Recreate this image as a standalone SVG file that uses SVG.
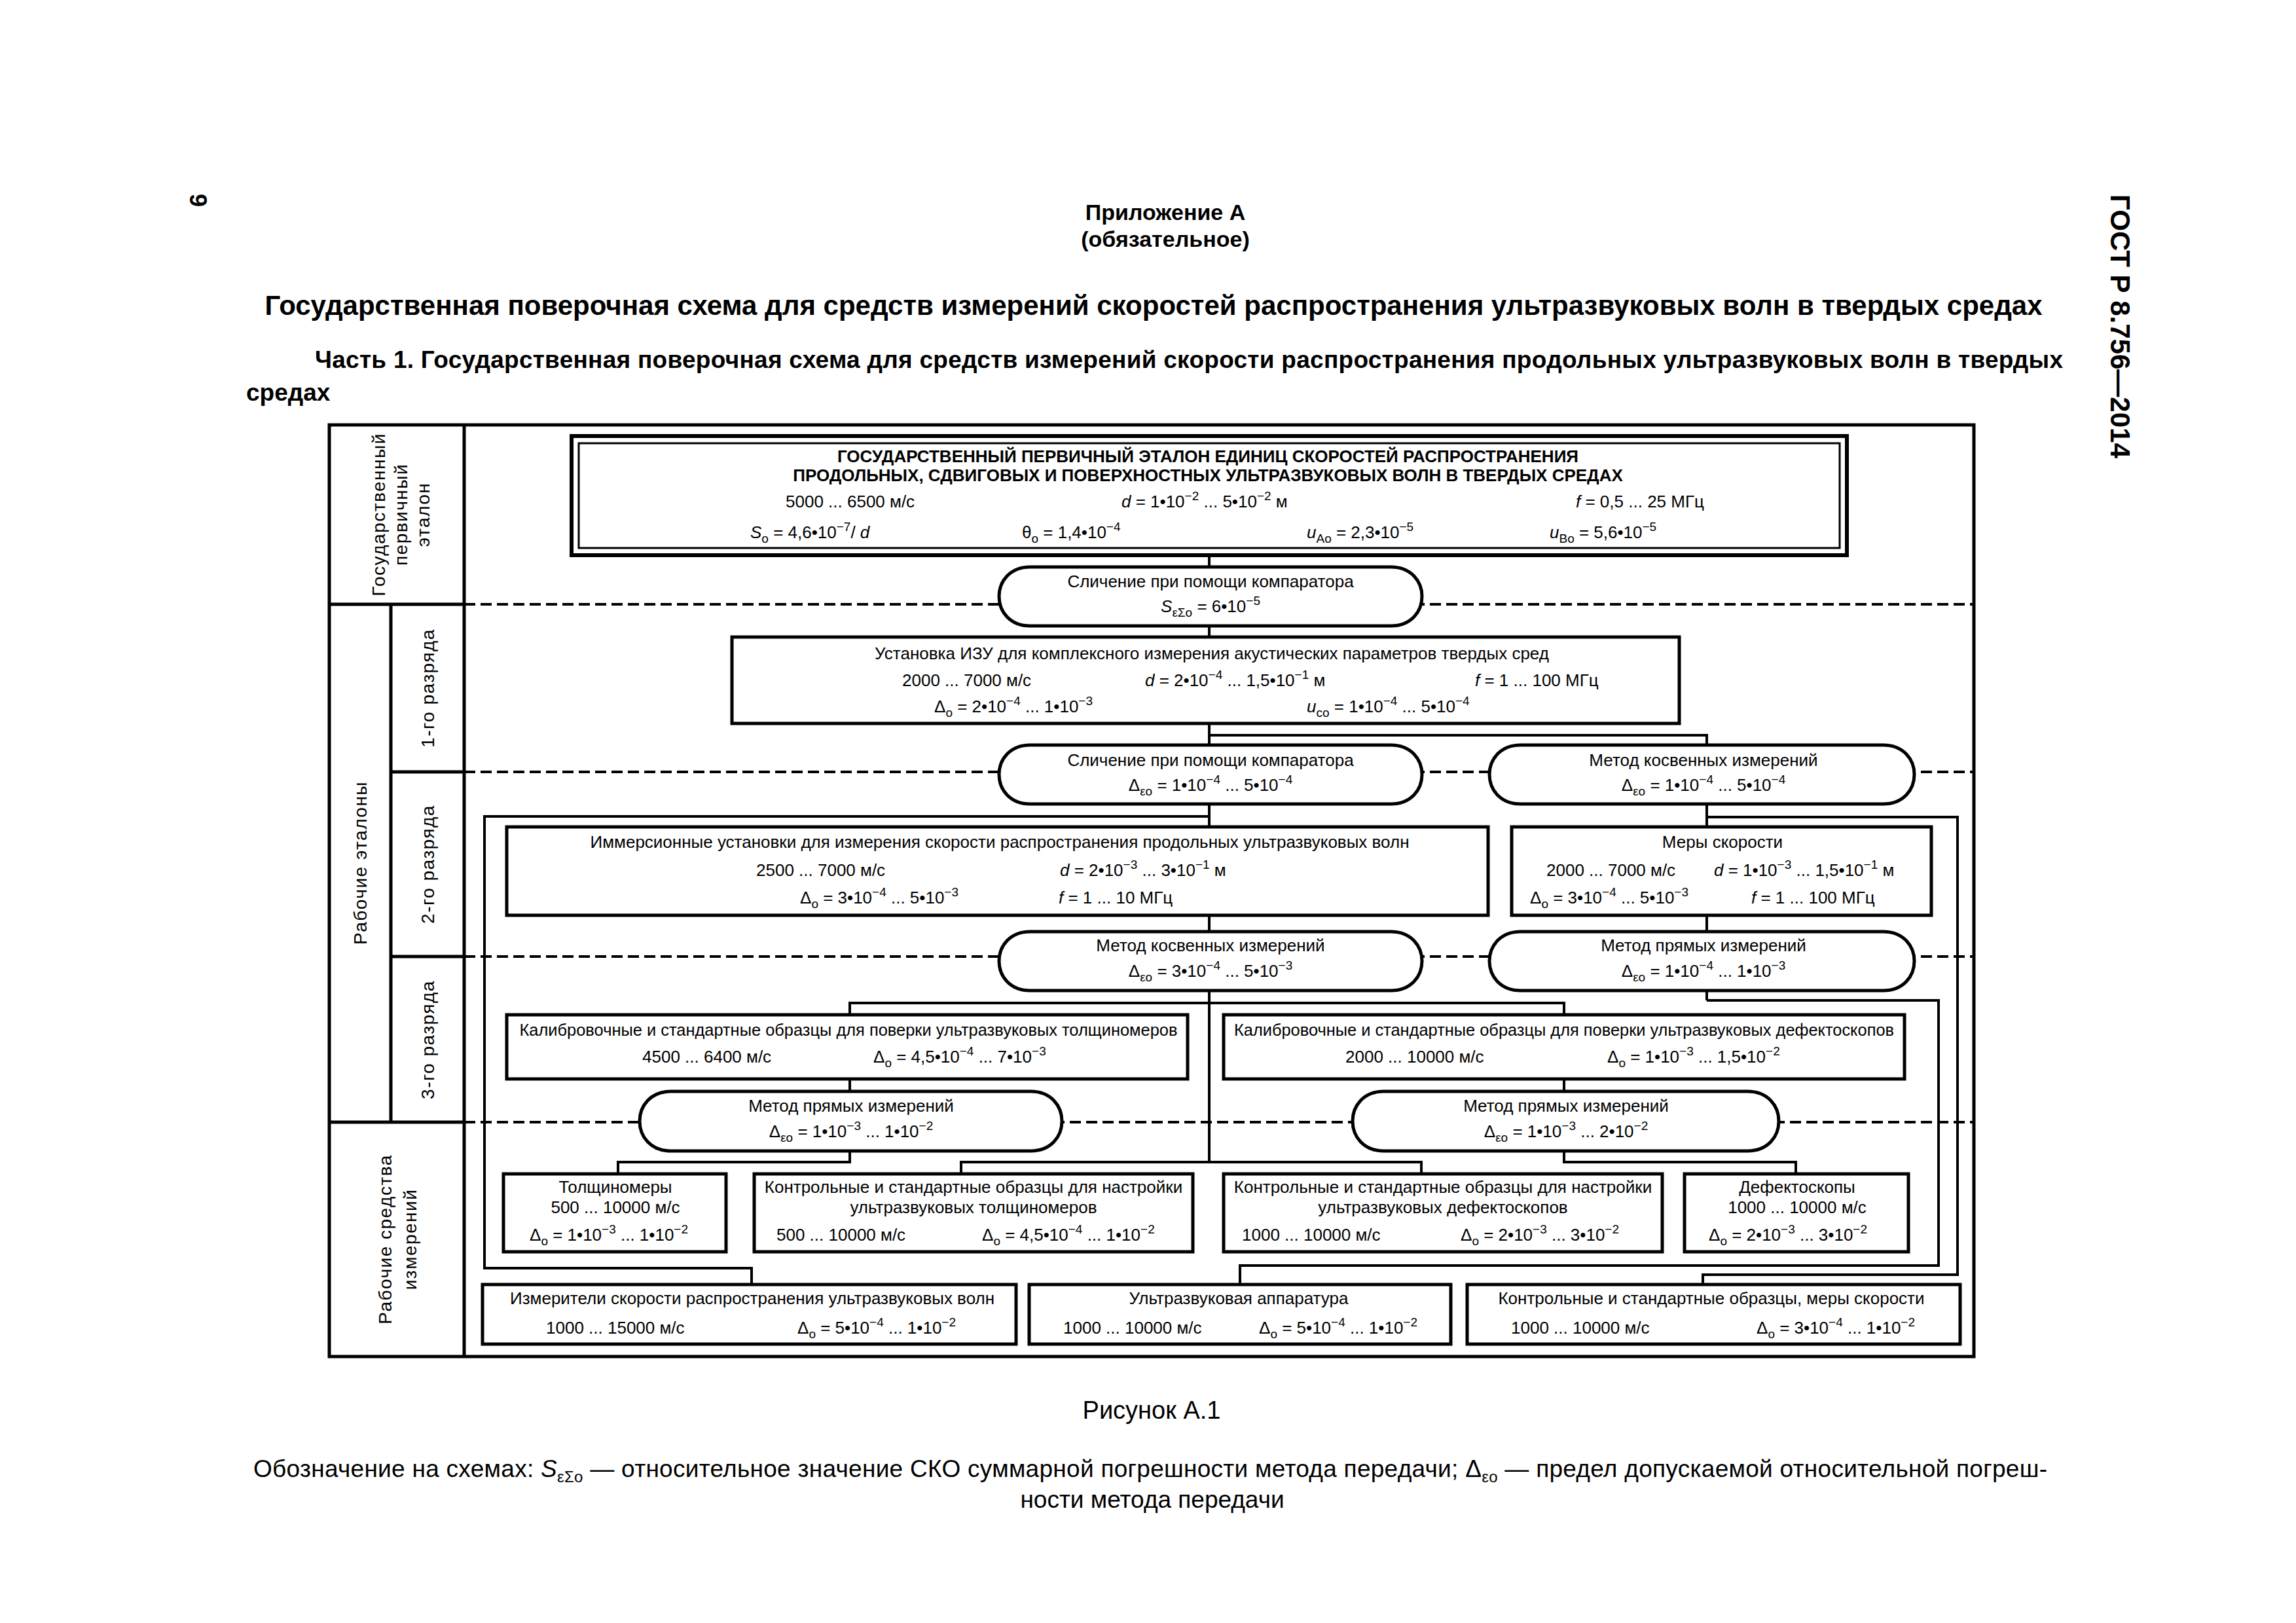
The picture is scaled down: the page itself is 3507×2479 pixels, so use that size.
<svg xmlns="http://www.w3.org/2000/svg" width="3507" height="2479" viewBox="0 0 3507 2479">
<style>
text{font-family:"Liberation Sans",Arial,sans-serif;fill:#000}
.t{font-size:26px}
.m{text-anchor:middle}
.b{font-weight:bold}
.i{font-style:italic}
.s{font-size:19px}
.lab{font-size:28px;letter-spacing:1.5px;text-anchor:middle}
.ln{stroke:#000;stroke-width:4;fill:none}
.fr{stroke:#000;stroke-width:5;fill:none}
.box{fill:#fff;stroke:#000;stroke-width:5}
.dash{stroke:#000;stroke-width:4;stroke-dasharray:17 8;fill:none}
</style>
<rect width="3507" height="2479" fill="#fff"/>

<g id="page-header">
<text x="290" y="296" font-size="36" font-weight="bold" transform="rotate(90 290 296)">9</text>
<text x="3224" y="297" font-size="42" font-weight="bold" transform="rotate(90 3224 297)">ГОСТ Р 8.756—2014</text>
<text x="1780" y="336" font-size="34" class="m b">Приложение А</text>
<text x="1780" y="377" font-size="34" class="m b">(обязательное)</text>
<text x="1762" y="481" font-size="42" class="m b">Государственная поверочная схема для средств измерений скоростей распространения ультразвуковых волн в твердых средах</text>
<text x="481" y="562" font-size="37" class="b" textLength="2670" lengthAdjust="spacing">Часть 1. Государственная поверочная схема для средств измерений скорости распространения продольных ультразвуковых волн в твердых</text>
<text x="376" y="612" font-size="37" class="b">средах</text>
</g>

<g id="frame">
<rect class="fr" x="503" y="649" width="2512" height="1423"/>
<line class="fr" x1="709" y1="649" x2="709" y2="2072"/>
<line class="fr" x1="597" y1="923" x2="597" y2="1714"/>
<line class="fr" x1="503" y1="923" x2="709" y2="923"/>
<line class="fr" x1="597" y1="1179" x2="709" y2="1179"/>
<line class="fr" x1="597" y1="1461" x2="709" y2="1461"/>
<line class="fr" x1="503" y1="1714" x2="709" y2="1714"/>
</g>

<g id="row-labels">
<g transform="translate(0 786)">
<text class="lab" transform="translate(588 0) rotate(-90)">Государственный</text>
<text class="lab" transform="translate(622 0) rotate(-90)">первичный</text>
<text class="lab" transform="translate(656 0) rotate(-90)">эталон</text>
</g>
<text class="lab" transform="translate(560 1318) rotate(-90)">Рабочие эталоны</text>
<text class="lab" transform="translate(663 1051) rotate(-90)">1-го разряда</text>
<text class="lab" transform="translate(663 1320) rotate(-90)">2-го разряда</text>
<text class="lab" transform="translate(663 1588) rotate(-90)">3-го разряда</text>
<text class="lab" font-size="29" transform="translate(598 1893) rotate(-90)">Рабочие средства</text>
<text class="lab" font-size="29" transform="translate(636 1893) rotate(-90)">измерений</text>
</g>

<g id="level-dividers">
<line class="dash" x1="709" y1="923" x2="3013" y2="923"/>
<line class="dash" x1="709" y1="1179" x2="3013" y2="1179"/>
<line class="dash" x1="709" y1="1461" x2="3013" y2="1461"/>
<line class="dash" x1="709" y1="1714" x2="3013" y2="1714"/>
</g>

<g id="connectors">
<polyline class="ln" points="1847,850 1847,1775"/>
<polyline class="ln" points="1847,1123 2607,1123 2607,1528"/>
<polyline class="ln" points="1847,1247 740,1247 740,1937 1148,1937 1148,1962"/>
<polyline class="ln" points="2607,1248 2990,1248 2990,1947 2601,1947 2601,1962"/>
<polyline class="ln" points="1298,1550 1298,1532 2389,1532 2389,1550"/>
<polyline class="ln" points="1468,1793 1468,1775 2171,1775 2171,1793"/>
<polyline class="ln" points="2607,1528 2961,1528 2961,1933 1894,1933 1894,1962"/>
<polyline class="ln" points="1298,1648 1298,1775 944,1775 944,1793"/>
<polyline class="ln" points="2389,1648 2389,1775 2743,1775 2743,1793"/>
</g>

<g id="primary">
<rect x="873" y="666" width="1948" height="182" fill="#fff" stroke="#000" stroke-width="6"/>
<rect x="884" y="677" width="1926" height="160" fill="none" stroke="#000" stroke-width="3"/>
<text x="1845" y="706" class="t m b" font-size="25.5">ГОСУДАРСТВЕННЫЙ ПЕРВИЧНЫЙ ЭТАЛОН ЕДИНИЦ СКОРОСТЕЙ РАСПРОСТРАНЕНИЯ</text>
<text x="1845" y="735" class="t m b" font-size="25.5">ПРОДОЛЬНЫХ, СДВИГОВЫХ И ПОВЕРХНОСТНЫХ УЛЬТРАЗВУКОВЫХ ВОЛН В ТВЕРДЫХ СРЕДАХ</text>
<text x="1200" y="775" class="t">5000 ... 6500 м/с</text>
<text x="1713" y="775" class="t"><tspan class="i">d</tspan> = 1•10<tspan class="s" dy="-11">−2</tspan><tspan dy="11"> ... 5•10</tspan><tspan class="s" dy="-11">−2</tspan><tspan dy="11"> м</tspan></text>
<text x="2407" y="775" class="t"><tspan class="i">f</tspan> = 0,5 ... 25 МГц</text>
<text x="1146" y="822" class="t"><tspan class="i">S</tspan><tspan class="s" dy="7">o</tspan><tspan dy="-7"> = 4,6•10</tspan><tspan class="s" dy="-11">−7</tspan><tspan dy="11">/ </tspan><tspan class="i">d</tspan></text>
<text x="1561" y="822" class="t">θ<tspan class="s" dy="7">o</tspan><tspan dy="-7"> = 1,4•10</tspan><tspan class="s" dy="-11">−4</tspan></text>
<text x="1996" y="822" class="t"><tspan class="i">u</tspan><tspan class="s" dy="7">Ao</tspan><tspan dy="-7"> = 2,3•10</tspan><tspan class="s" dy="-11">−5</tspan></text>
<text x="2367" y="822" class="t"><tspan class="i">u</tspan><tspan class="s" dy="7">Bo</tspan><tspan dy="-7"> = 5,6•10</tspan><tspan class="s" dy="-11">−5</tspan></text>
</g>

<g id="p1">
<path class="box" d="M1574 866H2124C2188 866 2188 956 2124 956H1574C1510 956 1510 866 1574 866Z"/>
<text x="1849" y="897" class="t m">Сличение при помощи компаратора</text>
<text x="1849" y="935" class="t m"><tspan class="i">S</tspan><tspan class="s" dy="7">εΣo</tspan><tspan dy="-7"> = 6•10</tspan><tspan class="s" dy="-11">−5</tspan></text>
</g>

<g id="ust">
<rect class="box" x="1118" y="973" width="1447" height="132"/>
<text x="1851" y="1007" class="t m">Установка ИЗУ для комплексного измерения акустических параметров твердых сред</text>
<text x="1378" y="1048" class="t">2000 ... 7000 м/с</text>
<text x="1749" y="1048" class="t"><tspan class="i">d</tspan> = 2•10<tspan class="s" dy="-11">−4</tspan><tspan dy="11"> ... 1,5•10</tspan><tspan class="s" dy="-11">−1</tspan><tspan dy="11"> м</tspan></text>
<text x="2253" y="1048" class="t"><tspan class="i">f</tspan> = 1 ... 100 МГц</text>
<text x="1427" y="1088" class="t">Δ<tspan class="s" dy="7">o</tspan><tspan dy="-7"> = 2•10</tspan><tspan class="s" dy="-11">−4</tspan><tspan dy="11"> ... 1•10</tspan><tspan class="s" dy="-11">−3</tspan></text>
<text x="1996" y="1088" class="t"><tspan class="i">u</tspan><tspan class="s" dy="7">co</tspan><tspan dy="-7"> = 1•10</tspan><tspan class="s" dy="-11">−4</tspan><tspan dy="11"> ... 5•10</tspan><tspan class="s" dy="-11">−4</tspan></text>
</g>

<g id="p2">
<path class="box" d="M1574 1138H2124C2188 1138 2188 1228 2124 1228H1574C1510 1228 1510 1138 1574 1138Z"/>
<text x="1849" y="1170" class="t m">Сличение при помощи компаратора</text>
<text x="1849" y="1208" class="t m">Δ<tspan class="s" dy="7">εo</tspan><tspan dy="-7"> = 1•10</tspan><tspan class="s" dy="-11">−4</tspan><tspan dy="11"> ... 5•10</tspan><tspan class="s" dy="-11">−4</tspan></text>
</g>

<g id="p3">
<path class="box" d="M2323 1138H2876C2940 1138 2940 1228 2876 1228H2323C2259 1228 2259 1138 2323 1138Z"/>
<text x="2602" y="1170" class="t m">Метод косвенных измерений</text>
<text x="2602" y="1208" class="t m">Δ<tspan class="s" dy="7">εo</tspan><tspan dy="-7"> = 1•10</tspan><tspan class="s" dy="-11">−4</tspan><tspan dy="11"> ... 5•10</tspan><tspan class="s" dy="-11">−4</tspan></text>
</g>

<g id="imm">
<rect class="box" x="774" y="1263" width="1499" height="135"/>
<text x="1527" y="1295" class="t m">Иммерсионные установки для измерения скорости распространения продольных ультразвуковых волн</text>
<text x="1155" y="1338" class="t">2500 ... 7000 м/с</text>
<text x="1619" y="1338" class="t"><tspan class="i">d</tspan> = 2•10<tspan class="s" dy="-11">−3</tspan><tspan dy="11"> ... 3•10</tspan><tspan class="s" dy="-11">−1</tspan><tspan dy="11"> м</tspan></text>
<text x="1222" y="1380" class="t">Δ<tspan class="s" dy="7">o</tspan><tspan dy="-7"> = 3•10</tspan><tspan class="s" dy="-11">−4</tspan><tspan dy="11"> ... 5•10</tspan><tspan class="s" dy="-11">−3</tspan></text>
<text x="1617" y="1380" class="t"><tspan class="i">f</tspan> = 1 ... 10 МГц</text>
</g>

<g id="mery">
<rect class="box" x="2309" y="1263" width="641" height="135"/>
<text x="2631" y="1295" class="t m">Меры скорости</text>
<text x="2362" y="1338" class="t">2000 ... 7000 м/с</text>
<text x="2618" y="1338" class="t"><tspan class="i">d</tspan> = 1•10<tspan class="s" dy="-11">−3</tspan><tspan dy="11"> ... 1,5•10</tspan><tspan class="s" dy="-11">−1</tspan><tspan dy="11"> м</tspan></text>
<text x="2337" y="1380" class="t">Δ<tspan class="s" dy="7">o</tspan><tspan dy="-7"> = 3•10</tspan><tspan class="s" dy="-11">−4</tspan><tspan dy="11"> ... 5•10</tspan><tspan class="s" dy="-11">−3</tspan></text>
<text x="2675" y="1380" class="t"><tspan class="i">f</tspan> = 1 ... 100 МГц</text>
</g>

<g id="p5">
<path class="box" d="M1574 1423H2124C2188 1423 2188 1513 2124 1513H1574C1510 1513 1510 1423 1574 1423Z"/>
<text x="1849" y="1453" class="t m">Метод косвенных измерений</text>
<text x="1849" y="1492" class="t m">Δ<tspan class="s" dy="7">εo</tspan><tspan dy="-7"> = 3•10</tspan><tspan class="s" dy="-11">−4</tspan><tspan dy="11"> ... 5•10</tspan><tspan class="s" dy="-11">−3</tspan></text>
</g>

<g id="p4">
<path class="box" d="M2323 1423H2876C2940 1423 2940 1513 2876 1513H2323C2259 1513 2259 1423 2323 1423Z"/>
<text x="2602" y="1453" class="t m">Метод прямых измерений</text>
<text x="2602" y="1492" class="t m">Δ<tspan class="s" dy="7">εo</tspan><tspan dy="-7"> = 1•10</tspan><tspan class="s" dy="-11">−4</tspan><tspan dy="11"> ... 1•10</tspan><tspan class="s" dy="-11">−3</tspan></text>
</g>

<g id="kal-t">
<rect class="box" x="774" y="1550" width="1040" height="98"/>
<text x="1296" y="1582" class="t m" textLength="1005" lengthAdjust="spacingAndGlyphs">Калибровочные и стандартные образцы для поверки ультразвуковых толщиномеров</text>
<text x="981" y="1623" class="t">4500 ... 6400 м/с</text>
<text x="1334" y="1623" class="t">Δ<tspan class="s" dy="7">o</tspan><tspan dy="-7"> = 4,5•10</tspan><tspan class="s" dy="-11">−4</tspan><tspan dy="11"> ... 7•10</tspan><tspan class="s" dy="-11">−3</tspan></text>
</g>

<g id="kal-d">
<rect class="box" x="1869" y="1550" width="1040" height="98"/>
<text x="2389" y="1582" class="t m" textLength="1008" lengthAdjust="spacingAndGlyphs">Калибровочные и стандартные образцы для поверки ультразвуковых дефектоскопов</text>
<text x="2055" y="1623" class="t">2000 ... 10000 м/с</text>
<text x="2455" y="1623" class="t">Δ<tspan class="s" dy="7">o</tspan><tspan dy="-7"> = 1•10</tspan><tspan class="s" dy="-11">−3</tspan><tspan dy="11"> ... 1,5•10</tspan><tspan class="s" dy="-11">−2</tspan></text>
</g>

<g id="p6">
<path class="box" d="M1025 1667H1574C1638 1667 1638 1758 1574 1758H1025C961 1758 961 1667 1025 1667Z"/>
<text x="1300" y="1698" class="t m">Метод прямых измерений</text>
<text x="1300" y="1737" class="t m">Δ<tspan class="s" dy="7">εo</tspan><tspan dy="-7"> = 1•10</tspan><tspan class="s" dy="-11">−3</tspan><tspan dy="11"> ... 1•10</tspan><tspan class="s" dy="-11">−2</tspan></text>
</g>

<g id="p7">
<path class="box" d="M2114 1667H2669C2733 1667 2733 1758 2669 1758H2114C2050 1758 2050 1667 2114 1667Z"/>
<text x="2392" y="1698" class="t m">Метод прямых измерений</text>
<text x="2392" y="1737" class="t m">Δ<tspan class="s" dy="7">εo</tspan><tspan dy="-7"> = 1•10</tspan><tspan class="s" dy="-11">−3</tspan><tspan dy="11"> ... 2•10</tspan><tspan class="s" dy="-11">−2</tspan></text>
</g>

<g id="tol">
<rect class="box" x="769" y="1793" width="340" height="119"/>
<text x="940" y="1822" class="t m">Толщиномеры</text>
<text x="940" y="1853" class="t m">500 ... 10000 м/с</text>
<text x="809" y="1895" class="t">Δ<tspan class="s" dy="7">o</tspan><tspan dy="-7"> = 1•10</tspan><tspan class="s" dy="-11">−3</tspan><tspan dy="11"> ... 1•10</tspan><tspan class="s" dy="-11">−2</tspan></text>
</g>

<g id="kon-t">
<rect class="box" x="1152" y="1793" width="670" height="119"/>
<text x="1487" y="1822" class="t m">Контрольные и стандартные образцы для настройки</text>
<text x="1487" y="1853" class="t m">ультразвуковых толщиномеров</text>
<text x="1186" y="1895" class="t">500 ... 10000 м/с</text>
<text x="1500" y="1895" class="t">Δ<tspan class="s" dy="7">o</tspan><tspan dy="-7"> = 4,5•10</tspan><tspan class="s" dy="-11">−4</tspan><tspan dy="11"> ... 1•10</tspan><tspan class="s" dy="-11">−2</tspan></text>
</g>

<g id="kon-d">
<rect class="box" x="1869" y="1793" width="670" height="119"/>
<text x="2204" y="1822" class="t m">Контрольные и стандартные образцы для настройки</text>
<text x="2204" y="1853" class="t m">ультразвуковых дефектоскопов</text>
<text x="1897" y="1895" class="t">1000 ... 10000 м/с</text>
<text x="2231" y="1895" class="t">Δ<tspan class="s" dy="7">o</tspan><tspan dy="-7"> = 2•10</tspan><tspan class="s" dy="-11">−3</tspan><tspan dy="11"> ... 3•10</tspan><tspan class="s" dy="-11">−2</tspan></text>
</g>

<g id="def">
<rect class="box" x="2573" y="1793" width="342" height="119"/>
<text x="2745" y="1822" class="t m">Дефектоскопы</text>
<text x="2745" y="1853" class="t m">1000 ... 10000 м/с</text>
<text x="2610" y="1895" class="t">Δ<tspan class="s" dy="7">o</tspan><tspan dy="-7"> = 2•10</tspan><tspan class="s" dy="-11">−3</tspan><tspan dy="11"> ... 3•10</tspan><tspan class="s" dy="-11">−2</tspan></text>
</g>

<g id="izm">
<rect class="box" x="737" y="1962" width="815" height="91"/>
<text x="1149" y="1992" class="t m">Измерители скорости распространения ультразвуковых волн</text>
<text x="834" y="2037" class="t">1000 ... 15000 м/с</text>
<text x="1218" y="2037" class="t">Δ<tspan class="s" dy="7">o</tspan><tspan dy="-7"> = 5•10</tspan><tspan class="s" dy="-11">−4</tspan><tspan dy="11"> ... 1•10</tspan><tspan class="s" dy="-11">−2</tspan></text>
</g>

<g id="uz">
<rect class="box" x="1572" y="1962" width="644" height="91"/>
<text x="1892" y="1992" class="t m">Ультразвуковая аппаратура</text>
<text x="1624" y="2037" class="t">1000 ... 10000 м/с</text>
<text x="1923" y="2037" class="t">Δ<tspan class="s" dy="7">o</tspan><tspan dy="-7"> = 5•10</tspan><tspan class="s" dy="-11">−4</tspan><tspan dy="11"> ... 1•10</tspan><tspan class="s" dy="-11">−2</tspan></text>
</g>

<g id="kon-m">
<rect class="box" x="2241" y="1962" width="753" height="91"/>
<text x="2614" y="1992" class="t m">Контрольные и стандартные образцы, меры скорости</text>
<text x="2308" y="2037" class="t">1000 ... 10000 м/с</text>
<text x="2683" y="2037" class="t">Δ<tspan class="s" dy="7">o</tspan><tspan dy="-7"> = 3•10</tspan><tspan class="s" dy="-11">−4</tspan><tspan dy="11"> ... 1•10</tspan><tspan class="s" dy="-11">−2</tspan></text>
</g>

<g id="caption">
<text x="1759" y="2167" font-size="38" class="m">Рисунок А.1</text>
<text x="387" y="2256" font-size="37" textLength="2740" lengthAdjust="spacing">Обозначение на схемах: <tspan class="i">S</tspan><tspan font-size="24" dy="8">εΣo</tspan><tspan dy="-8"> — относительное значение СКО суммарной погрешности метода передачи; Δ</tspan><tspan font-size="24" dy="8">εo</tspan><tspan dy="-8"> — предел допускаемой относительной погреш-</tspan></text>
<text x="1760" y="2303" font-size="37" class="m">ности метода передачи</text>
</g>
</svg>
